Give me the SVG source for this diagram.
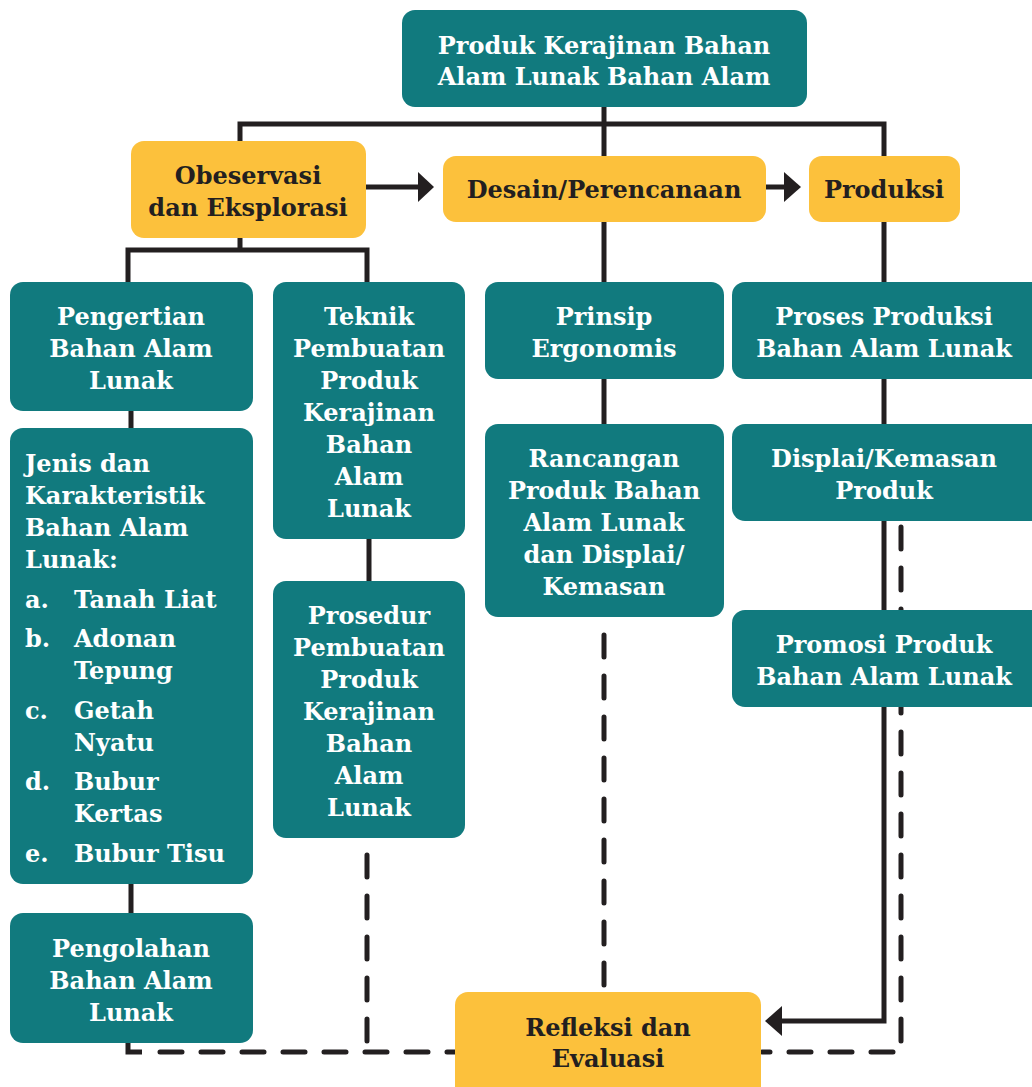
<svg xmlns="http://www.w3.org/2000/svg" width="1032" height="1087" viewBox="0 0 1032 1087">
<style>
.t{fill:#117a7e}
.y{fill:#fcc13c}
.w{fill:#ffffff;font-family:"DejaVu Serif","Liberation Serif",serif;font-weight:bold;font-size:24px;text-anchor:middle}
.d{fill:#231f20;font-family:"DejaVu Serif","Liberation Serif",serif;font-weight:bold;font-size:24px;text-anchor:middle}
.l{text-anchor:start}
.s{fill:none;stroke:#231f20;stroke-width:5}
.ds{fill:none;stroke:#231f20;stroke-width:5;stroke-dasharray:22 19;stroke-linecap:round}
.ah{fill:#231f20}
</style>
<rect width="1032" height="1087" fill="#ffffff"/>
<g id="connectors">
<path class="s" d="M604 107V282M240 141V124H884V282M240 238V250M128 282V250H367V282"/>
<path class="s" d="M131 411V428M131 884V913M369 539V581M604 379V424"/>
<path class="s" d="M884 379V1021H780"/>
<path class="s" d="M366 187H420M766 187H786"/>
<polygon class="ah" points="418,172 434,187 418,202"/>
<polygon class="ah" points="784,172 801,187 784,202"/>
<polygon class="ah" points="782,1006 765,1021 782,1036"/>
<path class="s" d="M128 1043V1052H142"/>
<path class="ds" d="M160 1052H455"/>
<path class="ds" d="M367 855V1052"/>
<path class="ds" d="M604 635V990"/>
<path class="ds" d="M901 527V1052H762"/>
</g>
<g id="n-top"><rect class="t" x="402" y="10" width="405" height="97" rx="13"/><text class="w" x="604" y="54">Produk Kerajinan Bahan</text><text class="w" x="604" y="85">Alam Lunak Bahan Alam</text></g>
<g id="n-obs"><rect class="y" x="131" y="141" width="235" height="97" rx="13"/><text class="d" x="248" y="184">Obeservasi</text><text class="d" x="248" y="216">dan Eksplorasi</text></g>
<g id="n-desain"><rect class="y" x="443" y="156" width="323" height="66" rx="13"/><text class="d" x="604" y="198">Desain/Perencanaan</text></g>
<g id="n-produksi"><rect class="y" x="809" y="156" width="151" height="66" rx="13"/><text class="d" x="884" y="198">Produksi</text></g>
<g id="n-pengertian"><rect class="t" x="10" y="282" width="243" height="129" rx="13"/><text class="w" x="131" y="325">Pengertian</text><text class="w" x="131" y="357">Bahan Alam</text><text class="w" x="131" y="389">Lunak</text></g>
<g id="n-teknik"><rect class="t" x="273" y="282" width="192" height="257" rx="13"/><text class="w" x="369" y="325">Teknik</text><text class="w" x="369" y="357">Pembuatan</text><text class="w" x="369" y="389">Produk</text><text class="w" x="369" y="421">Kerajinan</text><text class="w" x="369" y="453">Bahan</text><text class="w" x="369" y="485">Alam</text><text class="w" x="369" y="517">Lunak</text></g>
<g id="n-prinsip"><rect class="t" x="485" y="282" width="239" height="97" rx="13"/><text class="w" x="604" y="325">Prinsip</text><text class="w" x="604" y="357">Ergonomis</text></g>
<g id="n-proses"><rect class="t" x="732" y="282" width="312" height="97" rx="13"/><text class="w" x="884" y="325">Proses Produksi</text><text class="w" x="884" y="357">Bahan Alam Lunak</text></g>
<g id="n-jenis"><rect class="t" x="10" y="428" width="243" height="456" rx="13"/>
<text class="w l" x="25" y="472">Jenis dan</text><text class="w l" x="25" y="504">Karakteristik</text><text class="w l" x="25" y="536">Bahan Alam</text><text class="w l" x="25" y="568">Lunak:</text>
<text class="w l" x="25" y="608">a.</text><text class="w l" x="74" y="608">Tanah Liat</text>
<text class="w l" x="25" y="647">b.</text><text class="w l" x="74" y="647">Adonan</text><text class="w l" x="74" y="679">Tepung</text>
<text class="w l" x="25" y="719">c.</text><text class="w l" x="74" y="719">Getah</text><text class="w l" x="74" y="751">Nyatu</text>
<text class="w l" x="25" y="790">d.</text><text class="w l" x="74" y="790">Bubur</text><text class="w l" x="74" y="822">Kertas</text>
<text class="w l" x="25" y="862">e.</text><text class="w l" x="74" y="862">Bubur Tisu</text></g>
<g id="n-prosedur"><rect class="t" x="273" y="581" width="192" height="257" rx="13"/><text class="w" x="369" y="624">Prosedur</text><text class="w" x="369" y="656">Pembuatan</text><text class="w" x="369" y="688">Produk</text><text class="w" x="369" y="720">Kerajinan</text><text class="w" x="369" y="752">Bahan</text><text class="w" x="369" y="784">Alam</text><text class="w" x="369" y="816">Lunak</text></g>
<g id="n-rancangan"><rect class="t" x="485" y="424" width="239" height="193" rx="13"/><text class="w" x="604" y="467">Rancangan</text><text class="w" x="604" y="499">Produk Bahan</text><text class="w" x="604" y="531">Alam Lunak</text><text class="w" x="604" y="563">dan Displai/</text><text class="w" x="604" y="595">Kemasan</text></g>
<g id="n-displai"><rect class="t" x="732" y="424" width="312" height="97" rx="13"/><text class="w" x="884" y="467">Displai/Kemasan</text><text class="w" x="884" y="499">Produk</text></g>
<g id="n-promosi"><rect class="t" x="732" y="610" width="312" height="97" rx="13"/><text class="w" x="884" y="653">Promosi Produk</text><text class="w" x="884" y="685">Bahan Alam Lunak</text></g>
<g id="n-pengolahan"><rect class="t" x="10" y="913" width="243" height="130" rx="13"/><text class="w" x="131" y="957">Pengolahan</text><text class="w" x="131" y="989">Bahan Alam</text><text class="w" x="131" y="1021">Lunak</text></g>
<g id="n-refleksi"><rect class="y" x="455" y="992" width="306" height="110" rx="13"/><text class="d" x="608" y="1036">Refleksi dan</text><text class="d" x="608" y="1067">Evaluasi</text></g>
</svg>
